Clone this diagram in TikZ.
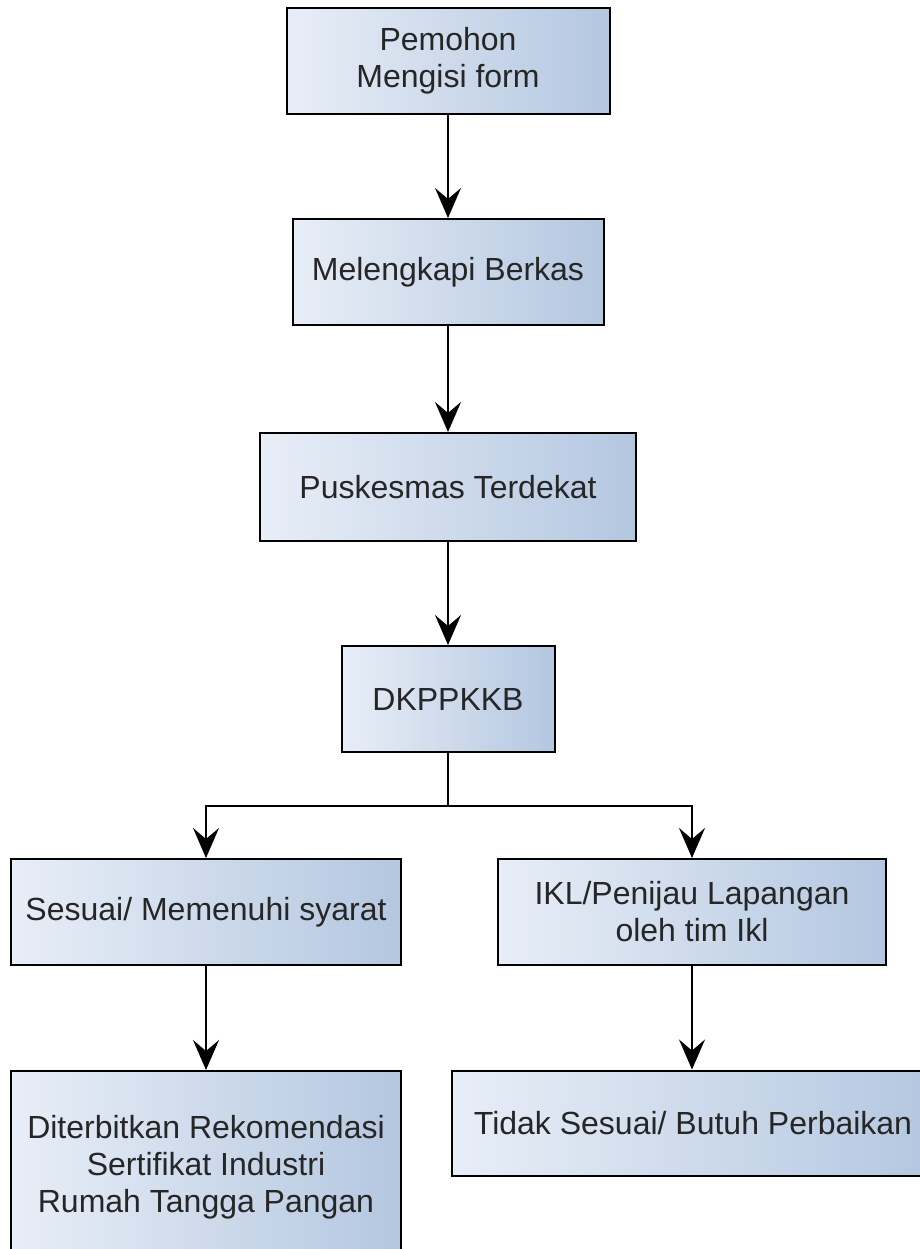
\documentclass[tikz,border=0pt]{standalone}
\usepackage{fontspec}
\setmainfont{Liberation Sans}
\usetikzlibrary{arrows.meta}
\definecolor{boxleft}{HTML}{E8EEF7}
\definecolor{boxright}{HTML}{B4C7E0}

\begin{document}
\begin{tikzpicture}
	[x=1pt,y=-1pt,
	box/.style={draw=black,line width=2pt,left color=boxleft,right color=boxright,
		align=center,inner sep=0pt,text=black!85,minimum height=106pt,
		font=\fontsize{32}{37}\selectfont},
	link/.style={line width=2pt,-{Stealth[length=30pt,width=26pt,inset=11pt]}},
	joint/.style={line width=2pt}]
	\useasboundingbox (0,0) rectangle (920,1249);
	\clip (0,0) rectangle (920,1249);
	% main column
	\node[box,minimum width=323pt] (pemohon) at (448,61) {Pemohon\\Mengisi form};
	\node[box,minimum width=311pt] (berkas) at (448,272) {Melengkapi Berkas};
	\node[box,minimum width=376pt,minimum height=108pt] (puskesmas) at (448,487) {Puskesmas Terdekat};
	\node[box,minimum width=213pt] (dkppkkb) at (448,699) {DKPPKKB};
	% two branches
	\node[box,minimum width=390pt] (sesuai) at (206,912) {Sesuai/ Memenuhi syarat};
	\node[box,minimum width=388pt] (ikl) at (692,912) {IKL/Penijau Lapangan\\oleh tim Ikl};
	\node[box,minimum width=390pt,minimum height=192pt] (terbit) at (206,1167) {Diterbitkan Rekomendasi\\Sertifikat Industri\\Rumah Tangga Pangan};
	\node[box,minimum width=482pt,minimum height=105pt] (tidak) at (693,1123) {Tidak Sesuai/ Butuh Perbaikan};
	\coordinate (split) at (448,806);

	\draw[link] (pemohon) -- (berkas);
	\draw[link] (berkas) -- (puskesmas);
	\draw[link] (puskesmas) -- (dkppkkb);
	\draw[joint] (dkppkkb) -- (split);
	\draw[link] (split) -| (sesuai);
	\draw[link] (split) -| (ikl);
	\draw[link] (sesuai) -- (terbit);
	\draw[link] (ikl) -- (ikl |- tidak.north);
\end{tikzpicture}
\end{document}
